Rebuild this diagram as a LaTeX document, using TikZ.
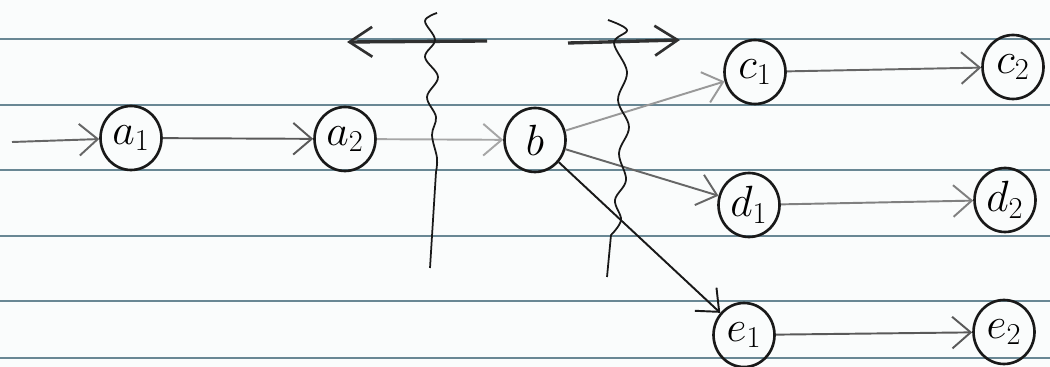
\documentclass[tikz,border=0pt]{standalone}
\usetikzlibrary{arrows.meta,shapes.geometric}
\definecolor{paper}{RGB}{250,252,252}
\definecolor{rule}{RGB}{105,135,148}
\definecolor{ink}{RGB}{25,25,25}
\begin{document}
\begin{tikzpicture}[x=0.02cm,y=-0.02cm,
  state/.style={draw=ink,line width=1.5pt,ellipse,inner sep=0pt,
    minimum width=1.22cm,minimum height=1.28cm,
    font=\fontsize{26}{28}\selectfont},
  flow/.style={line width=1.1pt,-{Straight Barb[length=10.5pt,width=18pt,line width=1.1pt]}},
  ruleline/.style={rule,line width=0.65pt},
  wave/.style={ink,line width=1pt},
  bigarrow/.style={draw=ink!90,line width=1.9pt,-{Straight Barb[length=13pt,width=17pt,line width=1.5pt]}}
]
\useasboundingbox (0,0) rectangle (1050,367);
\fill[paper] (0,0) rectangle (1050,367);

% ruled paper
\foreach \yy in {39,105,170,236,301,358}
  \draw[ruleline] (0,\yy) -- (1050,\yy);

% states
\node[state] (a1) at (131,138) {$a_1$};
\node[state] (a2) at (345,139) {$a_2$};
\node[state] (b)  at (535,140) {$b$};
\node[state] (c1) at (755,72)  {$c_1$};
\node[state] (c2) at (1013,67) {$c_2$};
\node[state] (d1) at (749,205) {$d_1$};
\node[state] (d2) at (1005,200) {$d_2$};
\node[state] (e1) at (744,335) {$e_1$};
\node[state] (e2) at (1004,332) {$e_2$};

% transitions
\coordinate (in) at (12,142);
\draw[flow,black!60] (in) -- (a1);
\draw[flow,black!65] (a1) -- (a2);
\draw[flow,black!35] (a2) -- (b);
\draw[flow,black!40] (b) -- (c1);
\draw[flow,black!60] (b) -- (d1);
\draw[flow,ink]      (b) -- (e1);
\draw[flow,black!60] (c1) -- (c2);
\draw[flow,black!50] (d1) -- (d2);
\draw[flow,black!65] (e1) -- (e2);

% direction arrows along the top line
\coordinate (lt) at (487,41);
\coordinate (lh) at (347,42);
\coordinate (rt) at (568,43);
\coordinate (rh) at (680,40);
\draw[bigarrow] (lt) -- (lh);
\draw[bigarrow] (rt) -- (rh);

% wavy cuts
\draw[wave] plot[smooth,tension=0.6] coordinates {
  (437,13) (425,21) (435,40) (425,57) (438,77) (427,97) (436,117)
  (432,135) (437,158) (436,172)}
  -- (433,220) -- (430,268);
\draw[wave] plot[smooth,tension=0.6] coordinates {
  (608,20) (627,30) (614,43) (627,72) (618,100) (629,127) (619,153)
  (626,180) (615,200) (621,220) (611,235)}
  -- (607,277);
\end{tikzpicture}
\end{document}
